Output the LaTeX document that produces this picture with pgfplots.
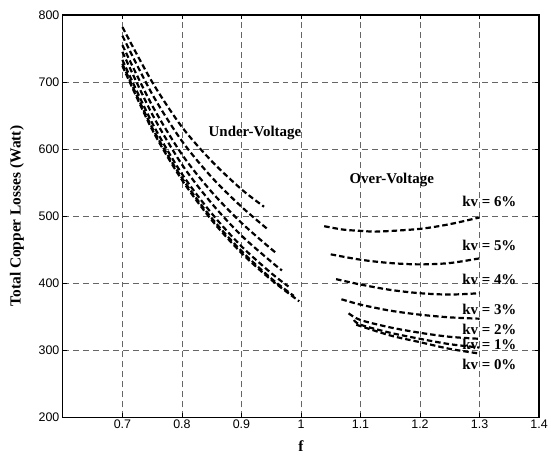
\documentclass[border=0pt]{standalone}
\usepackage{fontspec}
\setmainfont{Liberation Serif}
\setsansfont{Liberation Sans}
\usepackage{pgfplots}
\pgfplotsset{compat=1.18}

\begin{document}
\begin{tikzpicture}
  \begin{axis}[
    at={(0,0)}, anchor=south west,
    scale only axis, width=477bp, height=403bp,
    xmin=0.6, xmax=1.4, ymin=200, ymax=800,
    xtick={0.7,0.8,0.9,1,1.1,1.2,1.3,1.4},
    ytick={200,300,400,500,600,700,800},
    /pgf/number format/assume math mode=true,
    ticklabel style={font=\sffamily\fontsize{12.5}{13}\selectfont},
    xticklabel style={yshift=1bp},
    tick align=inside, major tick length=4bp,
    tick style={black, line width=0.6bp},
    axis line style={black, line width=1.2bp},
    grid=major,
    grid style={black!60, line width=0.6bp, dash pattern=on 6bp off 4bp},
    xlabel={\bfseries f}, ylabel={\bfseries Total Copper Losses (Watt)},
    label style={font=\fontsize{15.5}{17}\selectfont},
    xlabel style={at={(axis description cs:0.5,0)}, anchor=north, yshift=-20bp},
    ylabel style={at={(axis description cs:-0.0964,0.5)}, anchor=center},
    cycle list={{black, no markers}},
    every axis plot post/.append style={line width=2.2bp, dash pattern=on 5.5bp off 3bp, smooth},
  ]
    % under-voltage
    \addplot coordinates {(0.70,782) (0.75,700) (0.80,633) (0.85,582) (0.90,540) (0.938,514)};
    \addplot coordinates {(0.70,769) (0.75,682) (0.80,612) (0.85,558) (0.90,514) (0.946,479)};
    \addplot coordinates {(0.70,755) (0.75,665) (0.80,592) (0.85,536) (0.90,490) (0.95,451) (0.959,445)};
    \addplot coordinates {(0.70,745) (0.75,652) (0.80,577) (0.85,519) (0.90,471) (0.95,432) (0.968,419)};
    \addplot coordinates {(0.70,733) (0.75,639) (0.80,563) (0.85,504) (0.90,455) (0.95,415) (0.979,395)};
    \addplot coordinates {(0.70,727) (0.75,632) (0.80,557) (0.85,497) (0.90,448) (0.95,407) (0.988,381)};
    \addplot coordinates {(0.70,724) (0.75,629) (0.80,554) (0.85,494) (0.90,445) (0.95,405) (0.997,373)};
    % over-voltage
    \addplot coordinates {(1.039,485) (1.07,480) (1.10,478) (1.131,477) (1.20,481) (1.25,488) (1.30,498)};
    \addplot coordinates {(1.05,443) (1.10,435) (1.15,430) (1.20,428) (1.25,430) (1.30,437)};
    \addplot coordinates {(1.059,406) (1.10,398) (1.15,390) (1.20,385) (1.25,383) (1.30,385)};
    \addplot coordinates {(1.068,376) (1.10,368) (1.15,359) (1.20,353) (1.25,349) (1.30,347)};
    \addplot coordinates {(1.08,355) (1.10,345) (1.15,334) (1.20,326) (1.25,320) (1.30,317)};
    \addplot coordinates {(1.089,345) (1.10,338) (1.15,326) (1.20,317) (1.25,309) (1.30,304)};
    \addplot coordinates {(1.093,338) (1.15,322) (1.20,312) (1.25,302) (1.30,295)};

    \begin{scope}[font=\bfseries\fontsize{15}{17}\selectfont]
      \node at (axis cs:0.9227,624) {Under-Voltage};
      \node at (axis cs:1.1525,554) {Over-Voltage};
      \node at (axis cs:1.3165,522) {kv = 6\%};
      \node at (axis cs:1.3165,456) {kv = 5\%};
      \node at (axis cs:1.3165,405) {kv = 4\%};
      \node at (axis cs:1.3165,361) {kv = 3\%};
      \node at (axis cs:1.3165,331) {kv = 2\%};
      \node at (axis cs:1.3165,309) {kv = 1\%};
      \node at (axis cs:1.3165,279) {kv = 0\%};
    \end{scope}
  \end{axis}
  \path (-63bp,-43bp) rectangle (488bp,418bp);
\end{tikzpicture}
\end{document}
